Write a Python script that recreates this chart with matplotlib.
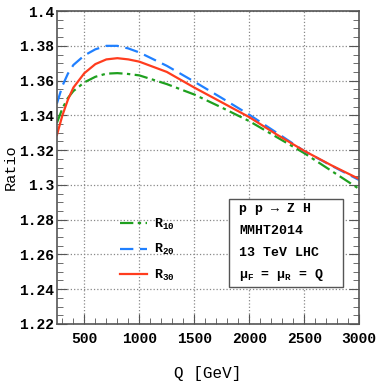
import matplotlib
matplotlib.use("Agg")
import matplotlib.pyplot as plt
from matplotlib.ticker import MultipleLocator
from matplotlib.patches import Rectangle

plt.rcParams['font.family'] = ['Liberation Mono', 'DejaVu Sans']
plt.rcParams['font.weight'] = 'bold'
plt.rcParams['mathtext.fontset'] = 'custom'
plt.rcParams['mathtext.rm'] = 'Liberation Mono:bold'
plt.rcParams['mathtext.it'] = 'Liberation Mono:bold'
plt.rcParams['mathtext.bf'] = 'Liberation Mono:bold'

# Q [GeV] と各比率
q = [250, 300, 350, 400, 500, 600, 700, 800, 900, 1000,
     1250, 1500, 1750, 2000, 2250, 2500, 2750, 3000]
r10 = [1.3357, 1.3440, 1.3500, 1.3540, 1.3590, 1.3622, 1.3640, 1.3643, 1.3638, 1.3630,
       1.3580, 1.3520, 1.3445, 1.3367, 1.3275, 1.3183, 1.3080, 1.2977]
r20 = [1.3468, 1.3570, 1.3640, 1.3690, 1.3745, 1.3780, 1.3800, 1.3800, 1.3785, 1.3762,
       1.3685, 1.3594, 1.3500, 1.3404, 1.3300, 1.3195, 1.3110, 1.3028]
r30 = [1.3287, 1.3400, 1.3490, 1.3560, 1.3643, 1.3695, 1.3722, 1.3729, 1.3722, 1.3709,
       1.3650, 1.3560, 1.3475, 1.3390, 1.3290, 1.3196, 1.3112, 1.3034]

y_ticks = [1.22, 1.24, 1.26, 1.28, 1.3, 1.32, 1.34, 1.36, 1.38, 1.4]
y_labels = ['1.22', '1.24', '1.26', '1.28', '1.3', '1.32', '1.34', '1.36', '1.38', '1.4']
x_ticks = [500, 1000, 1500, 2000, 2500, 3000]
info_lines = ['p p \u2192 Z H', 'MMHT2014', '13 TeV LHC', '\u03bc$_F$ = \u03bc$_R$ = Q']

fig = plt.figure(figsize=(3.82, 3.82), dpi=100)
ax = fig.add_axes([0.149, 0.152, 0.791, 0.819])

l10, = ax.plot(q, r10, color='#1fa01f', lw=1.6, ls=(0, (6, 2, 1.5, 2)), label='R$_{10}$')
l20, = ax.plot(q, r20, color='#2080ff', lw=1.6, ls=(0, (6, 3)), label='R$_{20}$')
l30, = ax.plot(q, r30, color='#ff3c1e', lw=1.6, label='R$_{30}$')

ax.set_xlim(250, 3000)
ax.set_ylim(1.22, 1.40)
ax.xaxis.set_minor_locator(MultipleLocator(100))
ax.yaxis.set_minor_locator(MultipleLocator(0.005))
ax.set_yticks(y_ticks)
ax.set_yticklabels(y_labels)
ax.set_xticks(x_ticks)

ax.tick_params(which='both', direction='in', right=True, top=False, labelsize=10.5, color='#555555')
ax.tick_params(which='major', length=7)
ax.tick_params(axis='x', which='major', pad=6)
ax.tick_params(axis='y', which='major', pad=2)
ax.tick_params(which='minor', length=4)
ax.grid(True, which='major', ls=':', color='#888888', lw=0.9)
for s in ax.spines.values():
    s.set_color('#555555')
    s.set_linewidth(1.2)

ax.set_xlabel('Q [GeV]', fontsize=11.5)
ax.xaxis.set_label_coords(0.5, -0.135)
ax.set_ylabel('Ratio', fontsize=11, va='baseline')
ax.yaxis.set_label_coords(-0.141, 0.5)

ax.legend(handles=[l10, l20, l30], loc='center left', bbox_to_anchor=(0.17, 0.237),
          frameon=False, fontsize=9.5, handlelength=2.0, labelspacing=0.8, handletextpad=0.6)

ax.add_patch(Rectangle((0.570, 0.118), 0.377, 0.281, transform=ax.transAxes,
                       fc='white', ec='#555555', lw=1.0, zorder=5))
for i, line in enumerate(info_lines):
    ax.text(0.603, 0.367 - i * 0.0705, line, transform=ax.transAxes, fontsize=9.5,
            va='center', ha='left', zorder=6)

fig.savefig('out.png', dpi=100)
plt.close(fig)
